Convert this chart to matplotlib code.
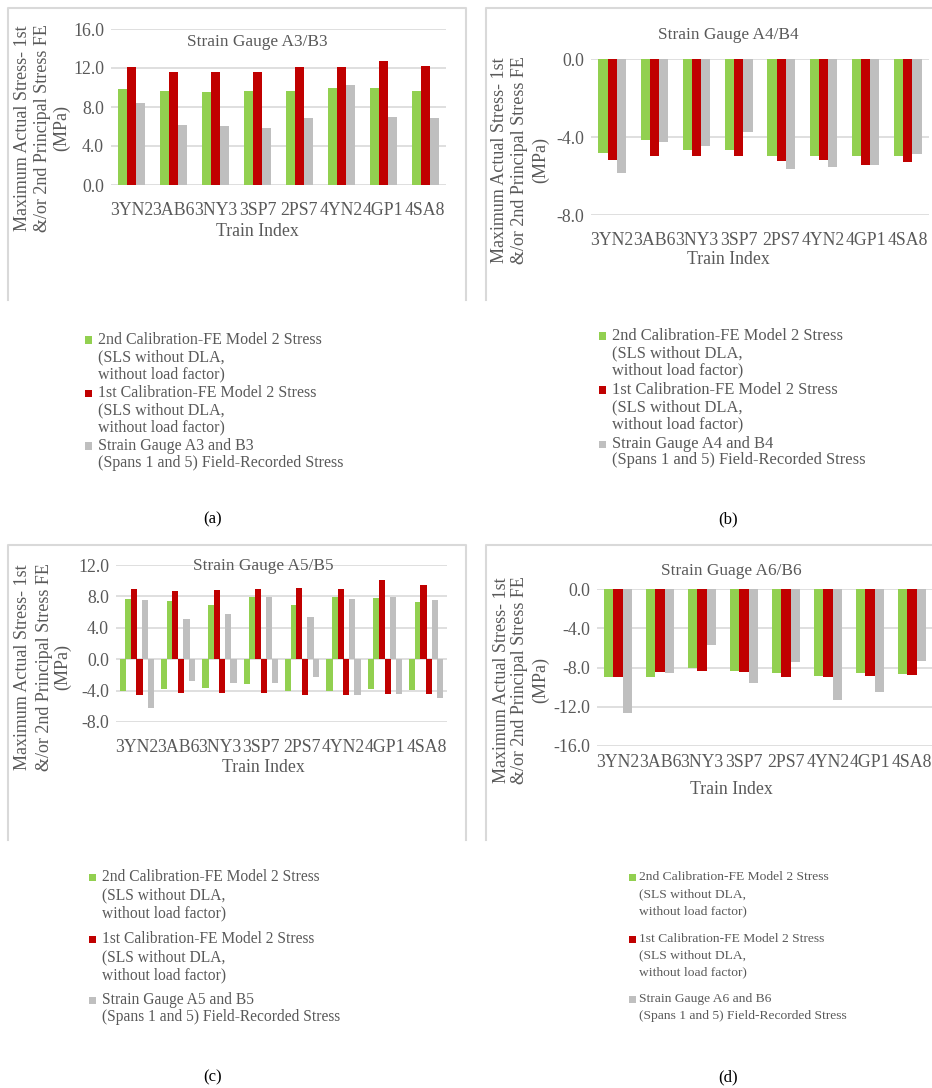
import matplotlib
matplotlib.use("Agg")
import matplotlib.pyplot as plt
from matplotlib.lines import Line2D
import numpy as np

plt.rcParams['font.family'] = ['Liberation Serif', 'DejaVu Serif']

# ---------------- data ----------------
categories = ["3YN2", "3AB6", "3NY3", "3SP7", "2PS7", "4YN2", "4GP1", "4SA8"]

# (a) Strain Gauge A3/B3
a_green = [9.85, 9.64, 9.50, 9.64, 9.64, 9.95, 9.95, 9.64]
a_red = [12.07, 11.56, 11.62, 11.62, 12.07, 12.07, 12.68, 12.17]
a_gray = [8.41, 6.19, 6.02, 5.85, 6.84, 10.26, 7.01, 6.84]

# (b) Strain Gauge A4/B4
b_green = [-4.83, -4.15, -4.65, -4.65, -4.95, -4.95, -4.95, -4.95]
b_red = [-5.19, -4.95, -4.99, -4.99, -5.21, -5.19, -5.43, -5.26]
b_gray = [-5.84, -4.24, -4.44, -3.74, -5.63, -5.55, -5.45, -4.85]

# (c) Strain Gauge A5/B5 (positive and negative stresses)
c_green_pos = [7.66, 7.40, 6.89, 7.96, 6.89, 7.96, 7.79, 7.32]
c_green_neg = [-4.00, -3.74, -3.66, -3.19, -4.00, -4.00, -3.83, -3.87]
c_red_pos = [8.94, 8.68, 8.85, 8.94, 9.02, 8.94, 10.09, 9.45]
c_red_neg = [-4.60, -4.34, -4.30, -4.34, -4.60, -4.60, -4.43, -4.47]
c_gray_pos = [7.53, 5.15, 5.74, 7.96, 5.36, 7.66, 7.87, 7.49]
c_gray_neg = [-6.17, -2.77, -2.98, -2.98, -2.26, -4.51, -4.38, -4.94]

# (d) Strain Guage A6/B6
d_green = [-8.95, -8.95, -8.03, -8.34, -8.54, -8.85, -8.54, -8.71]
d_red = [-8.95, -8.44, -8.37, -8.41, -8.95, -8.95, -8.82, -8.75]
d_gray = [-12.63, -8.54, -5.72, -9.57, -7.42, -11.34, -10.45, -7.32]

series_green = "2nd Calibration-FE Model 2 Stress\n(SLS without DLA,\nwithout load factor)"
series_red = "1st Calibration-FE Model 2 Stress\n(SLS without DLA,\nwithout load factor)"
gray_labels = {
    "a": "Strain Gauge A3 and B3\n(Spans 1 and 5) Field-Recorded Stress",
    "b": "Strain Gauge A4 and B4\n(Spans 1 and 5) Field-Recorded Stress",
    "c": "Strain Gauge A5 and B5\n(Spans 1 and 5) Field-Recorded Stress",
    "d": "Strain Gauge A6 and B6\n(Spans 1 and 5) Field-Recorded Stress",
}
titles = {"a": "Strain Gauge A3/B3", "b": "Strain Gauge A4/B4",
          "c": "Strain Gauge A5/B5", "d": "Strain Guage A6/B6"}
ylabel_lines = ["Maximum Actual Stress- 1st", "&/or 2nd Principal Stress FE", "(MPa)"]

GREEN = "#92d050"
RED = "#c00000"
GRAY = "#bfbfbf"
TXT = "#595959"
GRID = "#d9d9d9"

TICK_FS = 12.8
TITLE_FS = 12.4
YLAB_FS = 13

W, H = 932, 1088
fig = plt.figure(figsize=(W / 100, H / 100), dpi=100)
fig.patch.set_facecolor("white")


def ax_at(l, t, r, b):
    return fig.add_axes([l / W, 1 - b / H, (r - l) / W, (b - t) / H])


def ftext(x, y, s, **kw):
    kw.setdefault("color", TXT)
    fig.text(x / W, 1 - y / H, s, **kw)


def fline(xs, ys, **kw):
    fig.add_artist(Line2D([x / W for x in xs], [1 - y / H for y in ys],
                          transform=fig.transFigure, **kw))


def style_axes(ax, ylim, yticks, pad):
    ax.set_ylim(*ylim)
    ax.set_xlim(-0.5, len(categories) - 0.5)
    ax.set_yticks(yticks)
    ax.set_yticklabels([f"{v:.1f}" for v in yticks])
    ax.set_xticks(np.arange(len(categories)))
    ax.set_xticklabels(categories)
    for s in ax.spines.values():
        s.set_visible(False)
    ax.grid(axis="y", color=GRID, lw=1.2)
    ax.set_axisbelow(True)
    ax.tick_params(axis="both", length=0, labelsize=TICK_FS, labelcolor=TXT)
    ax.tick_params(axis="y", pad=5)
    ax.tick_params(axis="x", pad=pad)
    ax.patch.set_alpha(0)


def three_bars(ax, g, r, gr, w=0.215):
    x = np.arange(len(categories))
    ax.bar(x - w, g, w, color=GREEN, lw=0)
    ax.bar(x, r, w, color=RED, lw=0)
    ax.bar(x + w, gr, w, color=GRAY, lw=0)


def legend_block(x_sq, x_txt, ys, label_gray, size, sq=7):
    entries = [(GREEN, series_green), (RED, series_red), (GRAY, label_gray)]
    for (col, lab), (y0, dy) in zip(entries, ys):
        lines = lab.split("\n")
        fig.add_artist(plt.Rectangle(((x_sq - sq / 2) / W, 1 - (y0 + sq / 2) / H),
                                     sq / W, sq / H, transform=fig.transFigure,
                                     color=col, lw=0))
        for i, ln in enumerate(lines):
            ftext(x_txt, y0 + i * dy, ln, fontsize=size, ha="left", va="center")


def ylabel(xs, yc):
    for x, ln in zip(xs, ylabel_lines):
        ftext(x, yc, ln, fontsize=YLAB_FS, rotation=90, ha="center", va="center")


# ---------------- panel boxes ----------------
for (l, r, t, b) in [(8, 466, 8, 300), (486, 940, 8, 300),
                     (8, 466, 545, 840), (486, 940, 545, 840)]:
    fline([l, l, r, r], [b, t, t, b], color="#d9d9d9", lw=1.5)

# ---------------- (a) ----------------
axa = ax_at(111, 29, 446, 185)
three_bars(axa, a_green, a_red, a_gray)
style_axes(axa, (0, 16), [0, 4, 8, 12, 16], pad=12)
ftext(257, 42, titles["a"], fontsize=TITLE_FS, ha="center", va="center")
ftext(257, 231, "Train Index", fontsize=TICK_FS, ha="center", va="center")
ylabel([23, 43, 62], 128)
legend_block(88, 98, [(340, 17), (393, 17), (446, 17)], gray_labels["a"], 11.5)
ftext(213, 519, "(a)", fontsize=12, ha="center", va="center", color="black")

# ---------------- (b) ----------------
axb = ax_at(591, 59, 929, 215)
three_bars(axb, b_green, b_red, b_gray)
style_axes(axb, (-8, 0), [-8, -4, 0], pad=12)
ftext(728, 35, titles["b"], fontsize=TITLE_FS, ha="center", va="center")
ftext(728, 260, "Train Index", fontsize=TICK_FS, ha="center", va="center")
ylabel([500, 520, 541], 160)
legend_block(602, 612, [(336, 17), (390, 17), (444, 16)], gray_labels["b"], 11.9)
ftext(728, 519, "(b)", fontsize=12, ha="center", va="center", color="black")

# ---------------- (c) ----------------
axc = ax_at(116, 565, 447, 722)
xc = np.arange(len(categories))
s = 0.135
wc = 0.15
c_series = [(c_green_neg, GREEN), (c_green_pos, GREEN), (c_red_pos, RED),
            (c_red_neg, RED), (c_gray_pos, GRAY), (c_gray_neg, GRAY)]
for k, (vals, col) in enumerate(c_series):
    axc.bar(xc + (k - 2.5) * s, vals, wc, color=col, lw=0)
style_axes(axc, (-8, 12), [-8, -4, 0, 4, 8, 12], pad=12)
ftext(263, 566, titles["c"], fontsize=TITLE_FS, ha="center", va="center")
ftext(263, 767, "Train Index", fontsize=TICK_FS, ha="center", va="center")
ylabel([23, 45, 63], 667)
legend_block(92, 102, [(877, 18), (939, 18), (1000, 17)], gray_labels["c"], 11.2)
ftext(213, 1077, "(c)", fontsize=12, ha="center", va="center", color="black")

# ---------------- (d) ----------------
axd = ax_at(597, 589, 933, 746)
three_bars(axd, d_green, d_red, d_gray, w=0.22)
style_axes(axd, (-16, 0), [-16, -12, -8, -4, 0], pad=6)
ftext(731, 571, titles["d"], fontsize=TITLE_FS, ha="center", va="center")
ftext(731, 790, "Train Index", fontsize=TICK_FS, ha="center", va="center")
ylabel([501, 520, 541], 680)
legend_block(632, 639, [(877, 17), (939, 16.5), (999, 17)], gray_labels["d"], 9.7)
ftext(728, 1077, "(d)", fontsize=12, ha="center", va="center", color="black")

fig.savefig("out.png", dpi=100, facecolor="white")
